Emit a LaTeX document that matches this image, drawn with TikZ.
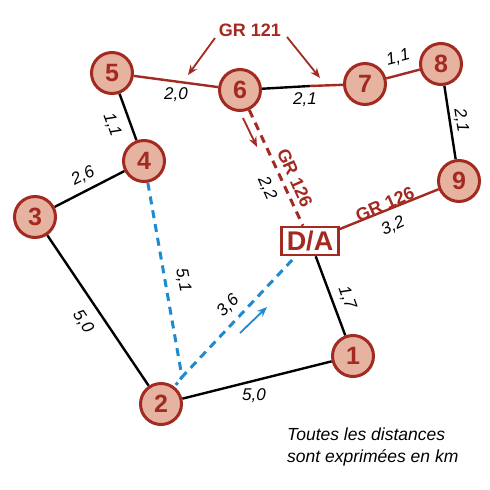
\documentclass[tikz,border=0pt]{standalone}
\usepackage{fontspec}
\setmainfont{Liberation Sans}
\usetikzlibrary{arrows.meta}
\pgfdeclarelayer{edges}
\pgfsetlayers{edges,main}
\definecolor{dred}{HTML}{A32A20}
\definecolor{pfill}{HTML}{E6B3A1}
\definecolor{bl}{HTML}{1E8AD0}
\tikzset{
  stop/.style={circle,draw=dred,line width=3pt,fill=pfill,minimum size=41pt,inner sep=0pt,
    text=dred,font=\fontsize{25}{25}\selectfont\bfseries},
  dabox/.style={draw=dred,line width=2.5pt,fill=white,minimum width=57pt,minimum height=28pt,inner sep=0pt,
    text=dred,font=\fontsize{27}{27}\selectfont\bfseries},
  blk/.style={line width=2.4pt,black},
  red/.style={line width=2.4pt,dred},
  reddash/.style={line width=3pt,dred,dash pattern=on 8pt off 6pt},
  bldash/.style={line width=3pt,bl,dash pattern=on 8pt off 6pt},
  dist/.style={font=\fontsize{17}{17}\selectfont\itshape,inner sep=0pt},
  grlab/.style={font=\fontsize{18}{18}\selectfont\bfseries,text=dred,inner sep=0pt},
  note/.style={font=\fontsize{17.5}{22}\selectfont\itshape,align=left,inner sep=0pt,anchor=north west},
  rarr/.style={line width=1.8pt,dred,-{Stealth[length=10pt,width=8pt]}},
  barr/.style={line width=1.8pt,bl,-{Stealth[length=10pt,width=8pt]}},
}
\begin{document}
\begin{tikzpicture}[x=1pt,y=-1pt]
\useasboundingbox (0,0) rectangle (490,490);
% coordinates
\coordinate (m) at (182,377);
\coordinate (sw) at (310,86);
% nodes
\node[stop] (n5) at (112,73) {5};
\node[stop] (n6) at (240,90) {6};
\node[stop] (n7) at (365,84) {7};
\node[stop] (n8) at (441,64) {8};
\node[stop] (n9) at (459,181) {9};
\node[stop] (n4) at (144,161) {4};
\node[stop] (n3) at (35,217) {3};
\node[stop] (n2) at (161,404) {2};
\node[stop] (n1) at (353,356) {1};
\node[dabox] (da) at (310,241) {D/A};
% connectors
\begin{pgfonlayer}{edges}
\draw[red] (n5) -- (n6);
\draw[blk] (n6) -- (sw);
\draw[red] (sw) -- (n7);
\draw[red] (n7) -- (n8);
\draw[blk] (n8) -- (n9);
\draw[red] (n9) -- (da);
\draw[reddash] (n6) -- (da);
\draw[blk] (n5) -- (n4);
\draw[blk] (n4) -- (n3);
\draw[blk] (n3) -- (n2);
\draw[blk] (n2) -- (n1);
\draw[blk] (n1) -- (da);
\draw[bldash] (n4) -- (m) -- (da);
\draw[bl,line width=3pt,dash pattern=on 3pt off 4pt] (m) -- (n2);
\end{pgfonlayer}
% distance labels
\node[dist] (l56) at (176,95) {2,0};
\node[dist] (l67) at (305,100) {2,1};
\node[dist,rotate=15] (l78) at (398,58) {1,1};
\node[dist,rotate=-81] (l89) at (461,120) {2,1};
\node[dist,rotate=24] (l9d) at (393,226) {3,2};
\node[dist,rotate=-66] (l6d) at (267,188) {2,2};
\node[dist,rotate=-70] (l54) at (112,125) {1,1};
\node[dist,rotate=27] (l43) at (83,176) {2,6};
\node[dist,rotate=-56] (l32) at (83,322) {5,0};
\node[dist] (l21) at (254,396) {5,0};
\node[dist,rotate=-70] (l1d) at (347,298) {1,7};
\node[dist,rotate=-79] (l4m) at (183,280) {5,1};
\node[dist,rotate=45] (lmd) at (228,306) {3,6};
% route labels
\node[grlab] (gr121) at (250,30) {GR 121};
\node[grlab,rotate=24] (gr126a) at (385,204) {GR 126};
\node[grlab,rotate=-66] (gr126b) at (295,178) {GR 126};
\coordinate (a1s) at (215,38); \coordinate (a1e) at (188,75);
\coordinate (a2s) at (287,37); \coordinate (a2e) at (320,78);
\coordinate (a3s) at (243,118); \coordinate (a3e) at (257,147);
\coordinate (a4s) at (240,333); \coordinate (a4e) at (267,307);
\draw[rarr] (a1s) -- (a1e);
\draw[rarr] (a2s) -- (a2e);
\draw[rarr] (a3s) -- (a3e);
\draw[barr] (a4s) -- (a4e);
% note
\node[note] (nt) at (287,428) {Toutes les distances\\sont exprimées en km};
\end{tikzpicture}
\end{document}
